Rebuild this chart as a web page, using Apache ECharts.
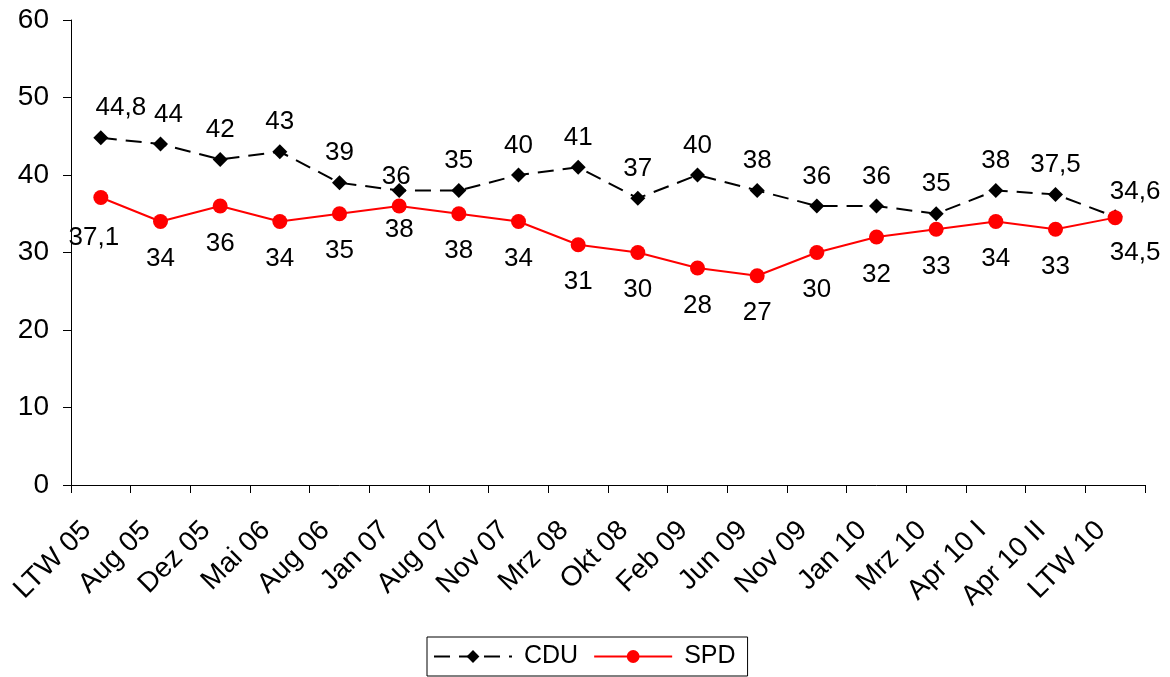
<!DOCTYPE html>
<html>
<head>
<meta charset="utf-8">
<script src="https://cdn.jsdelivr.net/npm/echarts@6/dist/echarts.min.js"></script>
<style>
  html, body { margin: 0; padding: 0; background: #fff; }
  #chart { width: 1170px; height: 677px; }
</style>
</head>
<body>
<div id="chart"></div>
<script>
// categories (x axis)
const categories = ['LTW 05', 'Aug 05', 'Dez 05', 'Mai 06', 'Aug 06', 'Jan 07', 'Aug 07', 'Nov 07', 'Mrz 08',
  'Okt 08', 'Feb 09', 'Jun 09', 'Nov 09', 'Jan 10', 'Mrz 10', 'Apr 10 I', 'Apr 10 II', 'LTW 10']

// values as plotted
const cduValues = [44.8, 44, 42, 43, 39, 38, 38, 40, 41, 37, 40, 38, 36, 36, 35, 38, 37.5, 34.6]
const spdValues = [37.1, 34, 36, 34, 35, 36, 35, 34, 31, 30, 28, 27, 30, 32, 33, 34, 33, 34.5]

// labels as printed in the original (Jan 07 / Aug 07 differ from the plotted points there)
const cduLabels = ['44,8', '44', '42', '43', '39', '36', '35', '40', '41', '37', '40', '38', '36', '36', '35', '38', '37,5', '34,6']
const spdLabels = ['37,1', '34', '36', '34', '35', '38', '38', '34', '31', '30', '28', '27', '30', '32', '33', '34', '33', '34,5']

const font = 'Liberation Sans, Arial, sans-serif'

// a few labels were nudged by hand in the original
const cduOffsets = { 0: [20, 0], 1: [8, 0], 5: [-3, 16], 17: [20, 4] }
const spdOffsets = { 0: [-7, 3], 5: [0, -14], 17: [20, -2] }

const chart = echarts.init(document.getElementById('chart'))

const options = {
  animation: false,
  backgroundColor: '#fff',
  grid: {
    left: 71,
    right: 25,
    top: 20,
    bottom: 192
  },
  legend: {
    bottom: 1,
    left: 427,
    padding: [7, 12, 7, 6],
    borderColor: '#000',
    borderWidth: 1,
    borderRadius: 0,
    itemWidth: 78,
    itemHeight: 16,
    itemGap: 15,
    textStyle: { fontFamily: font, fontSize: 25, color: '#000', padding: [0, 0, 0, 7] },
    data: ['CDU', 'SPD']
  },
  xAxis: {
    type: 'category',
    data: categories,
    boundaryGap: true,
    axisLine: { lineStyle: { color: '#000', width: 1 } },
    axisTick: { show: true, length: 8, interval: 0, lineStyle: { color: '#000' } },
    axisLabel: {
      interval: 0,
      rotate: 45,
      margin: 27,
      padding: [0, 20, 0, 0],
      color: '#000',
      fontFamily: font,
      fontSize: 28
    },
    splitLine: { show: false }
  },
  yAxis: {
    type: 'value',
    min: 0,
    max: 60,
    interval: 10,
    axisLine: { show: true, lineStyle: { color: '#000', width: 1 } },
    axisTick: { show: true, length: 8, lineStyle: { color: '#000' } },
    axisLabel: { color: '#000', fontFamily: font, fontSize: 28, margin: 22 },
    splitLine: { show: false }
  },
  series: [
    {
      name: 'CDU',
      type: 'line',
      symbol: 'diamond',
      symbolSize: 15,
      itemStyle: { color: '#000' },
      lineStyle: { color: '#000', width: 2, type: [16, 9] },
      label: {
        show: true,
        position: 'top',
        distance: 9,
        color: '#000',
        fontFamily: font,
        fontSize: 26
      },
      data: cduValues.map((v, i) => ({
        value: v,
        label: Object.assign({ formatter: cduLabels[i] }, cduOffsets[i] ? { offset: cduOffsets[i] } : {})
      }))
    },
    {
      name: 'SPD',
      type: 'line',
      symbol: 'circle',
      symbolSize: 15,
      itemStyle: { color: '#ff0000' },
      lineStyle: { color: '#ff0000', width: 2 },
      label: {
        show: true,
        position: 'bottom',
        distance: 17,
        color: '#000',
        fontFamily: font,
        fontSize: 26
      },
      data: spdValues.map((v, i) => ({
        value: v,
        label: Object.assign({ formatter: spdLabels[i] }, spdOffsets[i] ? { offset: spdOffsets[i] } : {})
      }))
    }
  ]
}

chart.setOption(options)
</script>
</body>
</html>
